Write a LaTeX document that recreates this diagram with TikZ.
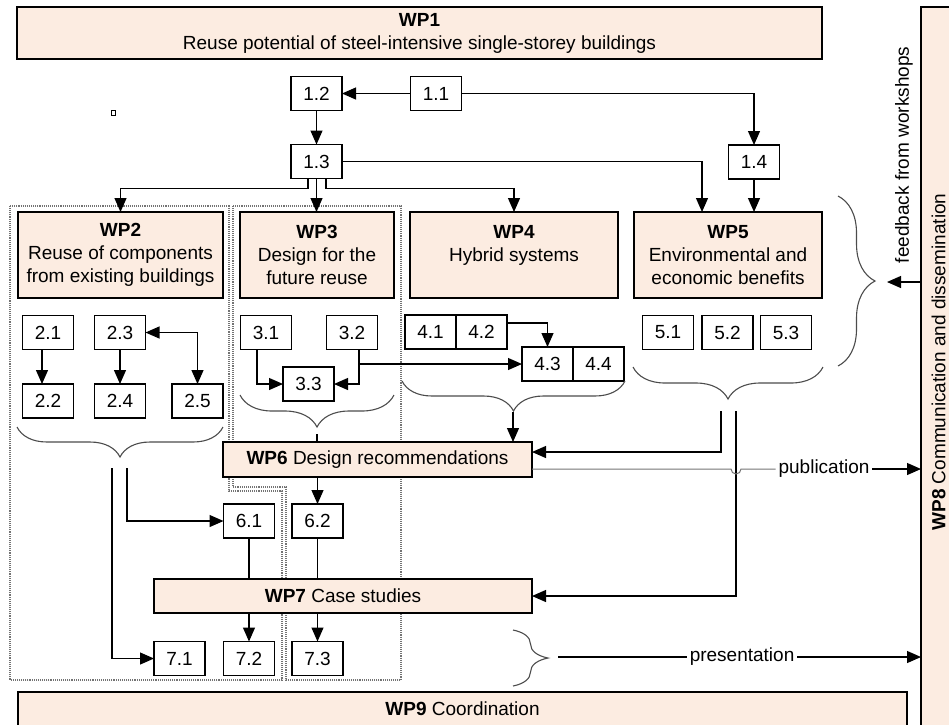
\documentclass[tikz,border=0pt]{standalone}
\usepackage{fontspec}
\setmainfont{Liberation Sans}
\usetikzlibrary{arrows.meta,decorations.pathreplacing,calc}
\definecolor{peach}{RGB}{252,236,225}
\begin{document}
\begin{tikzpicture}[x=1pt,y=-1pt,
  font=\fontsize{19}{23}\selectfont,
  every node/.style={inner sep=0pt, outer sep=0pt},
  wp/.style={draw, fill=peach, line width=1.3pt, align=center},
  tb/.style={draw, fill=white, line width=1.3pt, minimum width=51pt, minimum height=34pt},
  ar/.style={line width=1.2pt, -{Triangle[length=14pt,width=12pt]}},
  dar/.style={line width=1.2pt, {Triangle[length=14pt,width=12pt]}-{Triangle[length=14pt,width=12pt]}},
  ln/.style={line width=1.2pt},
  br/.style={decorate, decoration={brace, amplitude=#1}, line width=1.1pt, draw=black!70},
  dotreg/.style={densely dotted, line width=1.1pt, draw=black!55},
]
\useasboundingbox (0,0) rectangle (949,724);
\clip (0,0) rectangle (949,724);

% dotted work-package regions
\draw[dotreg] (10,206) -- (229,206) -- (229,491) -- (282,491) -- (282,680) -- (10,680) -- cycle;
\draw[dotreg] (233,206) -- (401,206) -- (401,680) -- (286,680) -- (286,487) -- (233,487) -- cycle;

% main work packages
\node[wp, minimum width=805, minimum height=52] (wp1) at (419.5,33) {\textbf{WP1}\\Reuse potential of steel-intensive single-storey buildings};
\node[wp, minimum width=42, minimum height=730] (wp8) at (942,372) {\rotatebox{90}{\hspace*{20pt}\textbf{WP8} Communication and dissemination}\hspace*{7pt}};
\node[wp, minimum width=205, minimum height=86] (wp2) at (120.5,255) {\textbf{WP2}\\Reuse of components\\from existing buildings};
\node[wp, minimum width=154, minimum height=86] (wp3) at (317,255) {\textbf{WP3}\\Design for the\\future reuse};
\node[wp, minimum width=208, minimum height=86] (wp4) at (514,255) {\textbf{WP4}\\Hybrid systems\\~};
\node[wp, minimum width=188, minimum height=86] (wp5) at (728,255) {\textbf{WP5}\\Environmental and\\economic benefits};
\node[wp, minimum width=309, minimum height=35] (wp6) at (377.5,459.5) {\textbf{WP6} Design recommendations};
\node[wp, minimum width=378, minimum height=34] (wp7) at (343,596) {\textbf{WP7} Case studies};
\node[wp, minimum width=889, minimum height=34] (wp9) at (462.5,709) {\textbf{WP9} Coordination};

% tasks
\node[tb] (n11) at (436,93.5) {1.1};
\node[tb] (n12) at (316.5,93.5) {1.2};
\node[tb] (n13) at (316.5,161.5) {1.3};
\node[tb] (n14) at (754,162) {1.4};
\node[tb] (n21) at (48,332.5) {2.1};
\node[tb] (n23) at (120,332.5) {2.3};
\node[tb] (n22) at (48,401) {2.2};
\node[tb] (n24) at (120,401) {2.4};
\node[tb] (n25) at (197.5,401) {2.5};
\node[tb] (n31) at (266,332.5) {3.1};
\node[tb] (n32) at (352,332.5) {3.2};
\node[tb] (n33) at (308.5,384) {3.3};
\node[tb] (n41) at (430.5,332) {4.1};
\node[tb] (n42) at (481.5,332) {4.2};
\node[tb] (n43) at (547.5,364) {4.3};
\node[tb] (n44) at (598.5,364) {4.4};
\node[tb] (n51) at (668,332.5) {5.1};
\node[tb] (n52) at (727.5,332.5) {5.2};
\node[tb] (n53) at (786,332.5) {5.3};
\node[tb] (n61) at (249,521) {6.1};
\node[tb] (n62) at (317.5,521) {6.2};
\node[tb] (n71) at (179.5,658.5) {7.1};
\node[tb] (n72) at (249,658.5) {7.2};
\node[tb] (n73) at (317.5,658.5) {7.3};
\node[draw, line width=0.8pt, minimum width=4, minimum height=5] (sq) at (113,113) {};

% braces
\draw[br=30pt] (223,427) -- (17,427);
\draw[br=32pt] (394,395) -- (240,395);
\draw[br=30pt] (625,381) -- (402,381);
\draw[br=32pt] (823,367) -- (633,367);
\draw[br=37pt] (838,196) -- (838,366);
\draw[br=35pt] (513,630) -- (513,686);

% WP1 internal links
\draw[ar] (n11.west) -- (n12.east);
\draw[ar] (n12.south) -- (n13.north);
\draw[ar] (n11.east) -| (n14.north);
\draw[ar] (n14.south) -- (n14.south |- wp5.north);
\coordinate (c13l) at ([xshift=-8.5pt]n13.south);
\coordinate (c13r) at ([xshift=9.5pt]n13.south);
\coordinate (c5in) at ([xshift=-26pt]wp5.north);
\draw[ar] (c13l) -- ++(0,10) -| (wp2.north);
\draw[ar] (n13.south) -- (n13.south |- wp3.north);
\draw[ar] (c13r) -- ++(0,10) -| (wp4.north);
\draw[ar] (n13.east) -| (c5in);

% WP2 links
\draw[ar] ([xshift=-6pt]n21.south) -- ([xshift=-6pt]n22.north);
\draw[ar] (n23.south) -- (n24.north);
\draw[dar] (n23.east) -| (n25.north);

% WP3 links
\coordinate (c31) at ([xshift=-9pt]n31.south);
\coordinate (c32) at ([xshift=7pt]n32.south);
\draw[ar] (c31) |- (n33.west);
\draw[ar] (c32) |- (n33.east);
\draw[ar] (c32 |- n43.west) -- (n43.west);

% WP4 links
\draw[ar] ([yshift=9pt]n42.east) -| (n43.north);

% into WP6
\coordinate (c3) at (317,434);
\draw[ln] (c3) -- (c3 |- wp6.north);
\coordinate (c4) at (513,412);
\draw[ar] (c4) -- (c4 |- wp6.north);
\coordinate (c5a) at (721,411);
\coordinate (c5b) at (736,411);
\coordinate (c6e) at ([yshift=7.5pt]wp6.east);
\draw[ar] (c5a) |- (c6e);
\draw[ar] (c5b) |- (wp7.east);

% publication
\coordinate (p0) at ([yshift=-9.5pt]wp6.east);
\node[fill=white, inner xsep=3pt, inner ysep=2pt] (pub) at (824,469) {publication};
\draw[line width=1pt, draw=black!55] (p0) -- (731,469) arc[start angle=180, end angle=0, radius=5] -- (pub.west);
\draw[ar] (pub.east) -- (wp8.west |- pub.east);

% WP2 outputs
\coordinate (c2a) at (127,468);
\coordinate (c2b) at (112,468);
\draw[ar] (c2a) |- (n61.west);
\draw[ar] (c2b) |- (n71.west);

% WP6 / WP7 links
\draw[ar] (n62 |- wp6.south) -- (n62.north);
\draw[ln] (n61.south) -- (n61 |- wp7.north);
\draw[ln] (n62.south) -- (n62 |- wp7.north);
\draw[ar] (n72 |- wp7.south) -- (n72.north);
\draw[ar] (n73 |- wp7.south) -- (n73.north);

% presentation
\coordinate (ps) at (558,657);
\draw[ar] (ps) -- (wp8.west |- ps) node[pos=0.507, fill=white, inner xsep=3pt, inner ysep=2pt] (pres) {presentation};

% feedback
\coordinate (fbe) at (887,282);
\draw[ar] (wp8.west |- fbe) -- (fbe);
\node[rotate=90] (fb) at (904,155) {feedback from workshops};
\end{tikzpicture}
\end{document}
